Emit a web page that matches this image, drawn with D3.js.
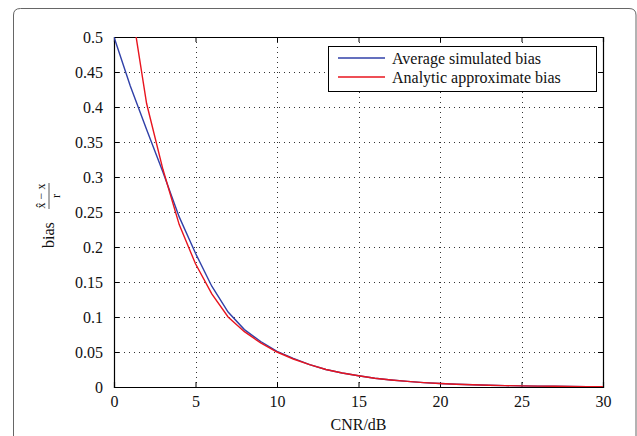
<!DOCTYPE html>
<html><head><meta charset="utf-8">
<script src="https://cdn.jsdelivr.net/npm/d3@7"></script>
<style>
html,body{margin:0;padding:0;background:#fff;}
svg{display:block;}
svg text{font-family:"Liberation Serif","Times New Roman",serif !important;}
</style></head>
<body>
<svg id="chart" width="637" height="436"></svg>
<script>
// ---- data ----
const cnrSim = [0,1,2,3,4,5,6,7,8,9,10,11,12,13,14,15,16,17,18,19,20,21,22,23,24,25,26,27,28,29,30];
const biasSim = [0.5,0.430,0.368,0.307,0.243,0.191,0.144,0.107,0.082,0.065,0.051,0.041,0.032,0.025,0.020,0.016,0.0125,0.010,0.008,0.0063,0.005,0.004,0.0032,0.0025,0.002,0.0016,0.0013,0.001,0.0008,0.0006,0.0005];
const cnrAna = [1,2,3,4,5,6,7,8,9,10,11,12,13,14,15,16,17,18,19,20,21,22,23,24,25,26,27,28,29,30];
const biasAna = [0.553,0.405,0.311,0.232,0.176,0.133,0.100,0.079,0.063,0.050,0.040,0.032,0.025,0.020,0.016,0.0125,0.010,0.008,0.0063,0.005,0.004,0.0032,0.0025,0.002,0.0016,0.0013,0.001,0.0008,0.0006,0.0005];
const xTicks = [0,5,10,15,20,25,30];
const xTickLabels = ["0","5","10","15","20","25","30"];
const yTicks = [0,0.05,0.1,0.15,0.2,0.25,0.3,0.35,0.4,0.45,0.5];
const yTickLabels = ["0","0.05","0.1","0.15","0.2","0.25","0.3","0.35","0.4","0.45","0.5"];
const seriesNames = ["Average simulated bias","Analytic approximate bias"];
const seriesColors = ["#3040a8","#e8141e"];

// ---- layout ----
const svg = d3.select("#chart");
const L = 114, R = 603, T = 37, B = 387;
const FS = 16;
const x = d3.scaleLinear().domain([0,30]).range([L,R]);
const y = d3.scaleLinear().domain([0,0.5]).range([B,T]);

// outer rounded frame
svg.append("path")
  .attr("d", `M13.5,436 L13.5,15 Q13.5,8.5 20.5,8.5 L629,8.5 Q636,8.5 636,15 L636,436`)
  .attr("fill","none").attr("stroke","#666").attr("stroke-width",1);

// grid
const grid = svg.append("g");
grid.selectAll(".gx").data(xTicks.slice(1,-1)).join("line")
  .attr("x1",d=>Math.round(x(d))+0.5).attr("x2",d=>Math.round(x(d))+0.5)
  .attr("y1",T).attr("y2",B)
  .attr("stroke","#333").attr("stroke-width",1).attr("stroke-dasharray","1,4");
grid.selectAll(".gy").data(yTicks.slice(1,-1)).join("line")
  .attr("y1",d=>Math.round(y(d))+0.5).attr("y2",d=>Math.round(y(d))+0.5)
  .attr("x1",L).attr("x2",R)
  .attr("stroke","#333").attr("stroke-width",1).attr("stroke-dasharray","1,4");

// axes
const fmtX = (d,i)=>xTickLabels[i];
const fmtY = (d,i)=>yTickLabels[i];
const gxB = svg.append("g").attr("transform",`translate(0,${B})`)
  .call(d3.axisBottom(x).tickValues(xTicks).tickFormat(fmtX).tickSize(-5).tickPadding(9));
const gxT = svg.append("g").attr("transform",`translate(0,${T})`)
  .call(d3.axisTop(x).tickValues(xTicks).tickFormat("").tickSize(-5));
const gyL = svg.append("g").attr("transform",`translate(${L},0)`)
  .call(d3.axisLeft(y).tickValues(yTicks).tickFormat(fmtY).tickSize(-5).tickPadding(11));
const gyR = svg.append("g").attr("transform",`translate(${R},0)`)
  .call(d3.axisRight(y).tickValues(yTicks).tickFormat("").tickSize(-5));
[gxB,gxT,gyL,gyR].forEach(g=>{
  g.attr("font-family",null).attr("font-size",FS);
  g.select(".domain").attr("stroke","#000").attr("stroke-width",1.2);
  g.selectAll(".tick line").attr("stroke","#000");
  g.selectAll("text").attr("fill","#111")
    .style("font-family","'Liberation Serif', 'Times New Roman', serif");
});

// clip
svg.append("clipPath").attr("id","clip").append("rect")
  .attr("x",L).attr("y",T).attr("width",R-L).attr("height",B-T);

const line = d3.line().x(d=>x(d[0])).y(d=>y(d[1]));
const simData = cnrSim.map((c,i)=>[c,biasSim[i]]);
const anaData = cnrAna.map((c,i)=>[c,biasAna[i]]);
const lines = svg.append("g").attr("clip-path","url(#clip)");
lines.append("path").datum(simData).attr("d",line)
  .attr("fill","none").attr("stroke",seriesColors[0]).attr("stroke-width",1.4);
lines.append("path").datum(anaData).attr("d",line)
  .attr("fill","none").attr("stroke",seriesColors[1]).attr("stroke-width",1.4);

// legend
const lg = svg.append("g");
lg.append("rect").attr("x",328.5).attr("y",46.5).attr("width",268).attr("height",45)
  .attr("fill","#fff").attr("stroke","#000").attr("stroke-width",1);
seriesNames.forEach((n,i)=>{
  const yy = 58 + i*19;
  lg.append("line").attr("x1",338).attr("x2",385).attr("y1",yy).attr("y2",yy)
    .attr("stroke",seriesColors[i]).attr("stroke-width",1.4);
  lg.append("text").attr("x",392).attr("y",yy+5.5).attr("font-size",FS).attr("fill","#111").text(n);
});

// axis labels
svg.append("text").attr("x",(L+R)/2).attr("y",430).attr("text-anchor","middle")
  .attr("font-size",FS).attr("fill","#111").text("CNR/dB");

const yl = svg.append("g").attr("transform","translate(48,212) rotate(-90)");
yl.append("text").attr("x",-36).attr("y",6).attr("font-size",FS).attr("fill","#111").text("bias");
yl.append("text").attr("x",16).attr("y",-3).attr("text-anchor","middle")
  .attr("font-size",12).attr("fill","#111").text("x\u0302 \u2212 x");
yl.append("line").attr("x1",3).attr("x2",29).attr("y1",1).attr("y2",1)
  .attr("stroke","#111").attr("stroke-width",0.7);
yl.append("text").attr("x",16).attr("y",12).attr("text-anchor","middle")
  .attr("font-size",12).attr("fill","#111").text("r");
</script>
</body></html>
